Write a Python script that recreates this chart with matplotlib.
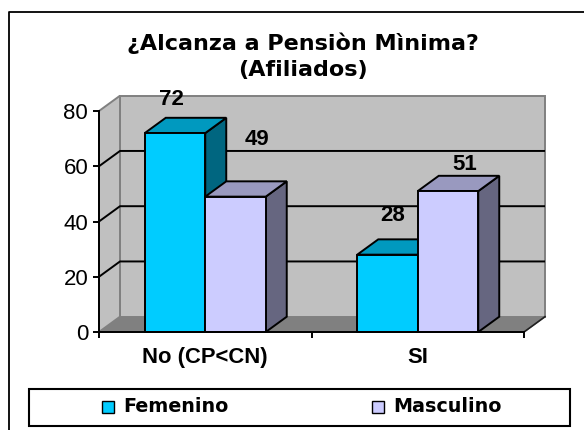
import matplotlib
matplotlib.use('Agg')
import matplotlib.pyplot as plt
from matplotlib.patches import Polygon, Rectangle

categories = ['No (CP<CN)', 'SI']
femenino = [72, 28]
masculino = [49, 51]
series_names = ['Femenino', 'Masculino']
y_ticks = [0, 20, 40, 60, 80]

W, H = 584, 430
plt.rcParams['font.family'] = ['Liberation Sans', 'DejaVu Sans']

fig = plt.figure(figsize=(W / 100, H / 100), dpi=100)
fig.patch.set_facecolor('white')
# plot front plane: x 99-524 px, y 332-111 px
ax = fig.add_axes([99 / W, 1 - 332 / H, 425 / W, 221 / H])
ax.set_xlim(0, 2)
ax.set_ylim(0, 80)
ax.patch.set_visible(False)

# depth of the fake 3d, in data units
dx = 21 / 212.5
dy = 15.3 / 2.7625
bar_w = 60.5 / 212.5


def poly(pts, color, ec='black', lw=1.4, z=3):
    ax.add_patch(Polygon(pts, closed=True, facecolor=color, edgecolor=ec, linewidth=lw,
                         zorder=z, clip_on=False, joinstyle='miter'))


# walls and floor
poly([(0, 0), (2, 0), (2 + dx, dy), (dx, dy)], '#808080', '#808080', 1.0, 1)
poly([(dx, dy), (2 + dx, dy), (2 + dx, 80 + dy), (dx, 80 + dy)], '#c0c0c0', '#808080', 1.4, 1)
poly([(0, 0), (dx, dy), (dx, 80 + dy), (0, 80)], '#c0c0c0', '#808080', 1.4, 1)

# gridlines on the walls
for t in y_ticks[1:-1]:
    ax.plot([0, dx, 2 + dx], [t, t + dy, t + dy], color='black', lw=1.4, zorder=2,
            clip_on=False, solid_capstyle='butt')
ax.plot([2, 2 + dx], [0, dy], color='#202020', lw=1.2, zorder=2, clip_on=False)

colors = [('#00ccff', '#0099bf', '#006680'), ('#ccccff', '#9999bf', '#666680')]


def bar3d(left, val, cols):
    right = left + bar_w
    poly([(right, 0), (right + dx, dy), (right + dx, val + dy), (right, val)], cols[2], z=3)
    poly([(left, val), (right, val), (right + dx, val + dy), (left + dx, val + dy)], cols[1], z=3)
    ax.add_patch(Rectangle((left, 0), bar_w, val, facecolor=cols[0], edgecolor='black',
                           linewidth=1.4, zorder=3, clip_on=False))


for i in range(len(categories)):
    bar3d(i + 0.5 - bar_w, femenino[i], colors[0])
    bar3d(i + 0.5, masculino[i], colors[1])

# data labels sit at their own spots in the original, offsets in points
fem_off = [(-2.7, 24.5), (3.6, 28)]
mas_off = [(15.4, 41), (12, 19.5)]
for i in range(len(categories)):
    for val, off, left in [(femenino[i], fem_off[i], i + 0.5 - bar_w), (masculino[i], mas_off[i], i + 0.5)]:
        ax.annotate(str(val), (left + bar_w / 2, val), xytext=off, textcoords='offset points',
                    ha='center', va='center', fontsize=16, fontweight='bold', zorder=6,
                    annotation_clip=False)

for s in ['top', 'right']:
    ax.spines[s].set_visible(False)
for s in ['left', 'bottom']:
    ax.spines[s].set_linewidth(1.4)
    ax.spines[s].set_zorder(5)
ax.set_yticks(y_ticks)
ax.set_yticklabels([str(t) for t in y_ticks], fontsize=16)
ax.set_xticks([0, 1, 2])
ax.set_xticklabels([])
ax.tick_params(axis='both', length=4.3, width=1.4, pad=3.5)
for i, name in enumerate(categories):
    ax.annotate(name, (i + 0.5, 0), xytext=(0, -18.7), textcoords='offset points', ha='center',
                va='center', fontsize=15.8, fontweight='bold')

fig.text(303 / W, 1 - 56.5 / H, '¿Alcanza a Pensiòn Mìnima?\n(Afiliados)', ha='center', va='center',
         fontsize=16, fontweight='bold', family=['DejaVu Sans'], linespacing=1.4)

# chart border (only top and left show in the crop) and legend box
fig.add_artist(plt.Line2D([8.5 / W, 8.5 / W, 1], [0, 1 - 12 / H, 1 - 12 / H], color='black', lw=1.3))
fig.add_artist(Rectangle((28.5 / W, 1 - 425.5 / H), 541 / W, 37 / H, transform=fig.transFigure,
                         facecolor='white', edgecolor='black', linewidth=1.5))
leg_x = [102, 372]
for x0, name, cols in zip(leg_x, series_names, colors):
    fig.add_artist(Rectangle((x0 / W, 1 - 412.5 / H), 12 / W, 12 / H, transform=fig.transFigure,
                             facecolor=cols[0], edgecolor='black', linewidth=1.0))
    fig.text((x0 + 21) / W, 1 - 407 / H, name, ha='left', va='center', fontsize=13.8,
             fontweight='bold', family=['DejaVu Sans'])

fig.savefig('out.png', dpi=100)
